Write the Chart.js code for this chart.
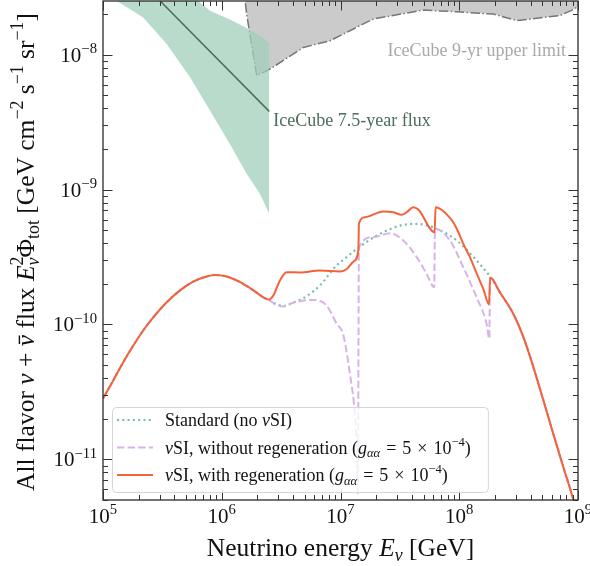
<!DOCTYPE html>
<html>
<head>
<meta charset="utf-8">
<script src="https://cdn.jsdelivr.net/npm/chart.js@4.4.1/dist/chart.umd.min.js"></script>
<style>
  html, body { margin: 0; padding: 0; background: #fff; }
</style>
</head>
<body>
<canvas id="flux" width="590" height="566"></canvas>
<script>
// energies in GeV, fluxes are E^2 Phi in GeV cm^-2 s^-1 sr^-1

// below ~2.5 PeV all three model curves coincide
const lowE    = [1.00e5, 1.22e5, 1.48e5, 1.80e5, 2.18e5, 2.65e5, 3.44e5, 4.45e5, 5.75e5, 7.46e5, 8.77e5, 1.10e6, 1.43e6, 1.85e6, 2.24e6, 2.47e6];
const lowFlux = [2.83e-11, 3.85e-11, 5.26e-11, 6.98e-11, 9.03e-11, 1.13e-10, 1.46e-10, 1.79e-10, 2.08e-10, 2.27e-10, 2.33e-10, 2.27e-10, 2.06e-10, 1.79e-10, 1.59e-10, 1.53e-10];

// above ~180 PeV they coincide again
const tailE    = [2.20e8, 2.85e8, 3.47e8, 4.21e8, 5.11e8, 6.19e8, 7.52e8, 8.67e8, 1.00e9];
const tailFlux = [1.73e-10, 1.20e-10, 8.05e-11, 4.83e-11, 2.74e-11, 1.55e-11, 8.77e-12, 5.89e-12, 3.8e-12];

// standard (no nuSI)
const stdE    = [2.82e6, 3.30e6, 3.98e6, 5.19e6, 6.71e6, 9.29e6, 1.13e7, 1.37e7, 2.02e7, 3.17e7, 4.38e7, 6.44e7, 9.53e7, 1.40e8, 1.82e8];
const stdFlux = [1.43e-10, 1.37e-10, 1.45e-10, 1.62e-10, 1.95e-10, 2.75e-10, 3.16e-10, 3.63e-10, 4.56e-10, 5.41e-10, 5.57e-10, 5.12e-10, 4.19e-10, 2.98e-10, 2.26e-10];

// nuSI without regeneration
const noRegenE    = [2.82e6, 3.30e6, 3.98e6, 5.92e6, 7.66e6, 9.29e6, 1.05e7, 1.20e7, 1.32e7, 1.37e7, 1.40e7, 1.43e7, 1.89e7, 2.61e7, 3.38e7, 4.38e7, 5.31e7, 6.15e7, 6.25e7, 8.36e7, 1.08e8, 1.40e8, 1.70e8, 1.79e8, 1.82e8];
const noRegenFlux = [1.41e-10, 1.36e-10, 1.45e-10, 1.52e-10, 1.38e-10, 1.01e-10, 8.53e-11, 4.32e-11, 2.18e-11, 1.23e-11, 5.6e-12, 3.72e-10, 4.44e-10, 4.75e-10, 4.19e-10, 3.16e-10, 2.38e-10, 1.89e-10, 5.13e-10, 4.19e-10, 2.66e-10, 1.59e-10, 1.01e-10, 7.83e-11, 2.26e-10];

// nuSI with regeneration
const regenE    = [2.72e6, 3.09e6, 3.52e6, 4.56e6, 6.71e6, 9.91e6, 1.13e7, 1.30e7, 1.415e7, 1.43e7, 1.61e7, 2.29e7, 2.79e7, 3.27e7, 3.61e7, 4.10e7, 4.52e7, 6.20e7, 6.32e7, 8.36e7, 9.53e7, 1.08e8, 1.23e8, 1.40e8, 1.60e8, 1.78e8, 1.82e8];
const regenFlux = [1.64e-10, 2.12e-10, 2.44e-10, 2.43e-10, 2.51e-10, 2.47e-10, 2.58e-10, 2.95e-10, 3.60e-10, 5.60e-10, 6.24e-10, 6.87e-10, 6.79e-10, 6.50e-10, 6.79e-10, 7.40e-10, 7.11e-10, 4.83e-10, 7.40e-10, 6.17e-10, 5.13e-10, 3.98e-10, 3.16e-10, 2.40e-10, 1.82e-10, 1.41e-10, 2.22e-10];

// IceCube 7.5-year flux: best fit and band
const heseE    = [1.50e5, 2.51e6];
const heseFlux = [4.68e-8, 3.80e-9];
const bandE    = [1.00e5, 1.30e5, 2.18e5, 3.44e5, 5.41e5, 7.96e5, 1.17e6, 1.62e6, 2.10e6, 2.51e6];
const bandLow  = [3.55e-8, 2.51e-8, 1.89e-8, 1.20e-8, 6.79e-9, 3.85e-9, 2.18e-9, 1.31e-9, 9.29e-10, 6.61e-10];
const bandHigh = [7.94e-8, 6.31e-8, 4.47e-8, 3.55e-8, 2.82e-8, 2.12e-8, 1.82e-8, 1.58e-8, 1.38e-8, 1.23e-8];

// IceCube 9-yr upper limit
const ulE    = [1.53e6, 1.62e6, 1.97e6, 2.55e6, 4.86e6, 8.17e6, 1.89e7, 4.98e7, 9.53e7, 1.94e8, 3.05e8, 7.05e8, 8.91e8, 1.00e9];
const ulFlux = [3.16e-8, 2.00e-8, 6.98e-9, 7.83e-9, 1.13e-8, 1.27e-8, 1.84e-8, 2.14e-8, 2.08e-8, 2.00e-8, 1.79e-8, 1.95e-8, 2.14e-8, 2.27e-8];

const xTickExps = [5, 6, 7, 8, 9];
const yTickExps = [-11, -10, -9, -8];

const FONT = '"Liberation Serif", "DejaVu Serif", serif';
const SP = "\u2004"; // wider math spacing around = and ×

const pts = (xs, ys) => xs.map((x, i) => ({x: x, y: ys[i]}));

// rich text: segments {t, it, sup, sub, bar, na (no advance)}
function segFont(s, size) {
  const sz = (s.sup || s.sub) ? size * 0.7 : size;
  return (s.it ? "italic " : "") + sz + "px " + FONT;
}
function drawRich(ctx, segs, x, y, size, align) {
  let w = 0;
  segs.forEach(s => {
    ctx.font = segFont(s, size);
    if (!s.na) w += ctx.measureText(s.t).width;
  });
  let cx = align === "center" ? x - w / 2 : align === "right" ? x - w : x;
  ctx.textAlign = "left";
  ctx.textBaseline = "alphabetic";
  segs.forEach(s => {
    ctx.font = segFont(s, size);
    const dy = s.sup ? -size * 0.42 : s.sub ? size * 0.2 : 0;
    const sw = ctx.measureText(s.t).width;
    ctx.fillText(s.t, cx, y + dy);
    if (s.bar) ctx.fillRect(cx + sw * 0.2, y - size * 0.6, sw * 0.75, size * 0.055);
    if (!s.na) cx += sw;
  });
  return w;
}

const mathTail = [{t: "g", it: true}, {t: "αα", it: true, sub: true}, {t: SP + "=" + SP + "5" + SP + "×" + SP + "10"}, {t: "−4", sup: true}, {t: ")"}];
const legendRows = [
  {ds: 2, segs: [{t: "Standard (no "}, {t: "ν", it: true}, {t: "SI)"}]},
  {ds: 1, segs: [{t: "ν", it: true}, {t: "SI, without regeneration ("}].concat(mathTail)},
  {ds: 0, segs: [{t: "ν", it: true}, {t: "SI, with regeneration ("}].concat(mathTail)}
];

const decorPlugin = {
  id: "decor",
  afterDatasetsDraw(chart) {
    const ctx = chart.ctx;
    const a = chart.chartArea;
    const xs = chart.scales.x, ys = chart.scales.y;
    ctx.save();

    // annotations
    ctx.fillStyle = "#4b6e5c";
    ctx.font = "18px " + FONT;
    ctx.textAlign = "left";
    ctx.fillText("IceCube 7.5-year flux", xs.getPixelForValue(bandE[bandE.length - 1]) + 4, ys.getPixelForValue(heseFlux[1]) + 15);
    ctx.fillStyle = "#a9a9a9";
    ctx.textAlign = "right";
    ctx.fillText("IceCube 9-yr upper limit", a.right - 12, ys.getPixelForValue(1e-8) + 1);

    // frame
    ctx.strokeStyle = "#222";
    ctx.lineWidth = 1.25;
    ctx.strokeRect(a.left, a.top, a.right - a.left, a.bottom - a.top);

    // inward ticks on all four sides
    ctx.lineWidth = 1;
    ctx.strokeStyle = "#333";
    ctx.beginPath();
    for (let e = 5; e <= 9; e++) {
      for (let k = 1; k <= 9; k++) {
        const v = k * Math.pow(10, e);
        if (v < xs.min || v > xs.max) continue;
        const px = Math.round(xs.getPixelForValue(v)) + 0.5;
        const len = k === 1 ? 9.5 : 5;
        ctx.moveTo(px, a.bottom); ctx.lineTo(px, a.bottom - len);
        ctx.moveTo(px, a.top); ctx.lineTo(px, a.top + len);
      }
    }
    for (let e = -12; e <= -8; e++) {
      for (let k = 1; k <= 9; k++) {
        const v = k * Math.pow(10, e);
        if (v < ys.min || v > ys.max) continue;
        const py = Math.round(ys.getPixelForValue(v)) + 0.5;
        const len = k === 1 ? 9.5 : 5;
        ctx.moveTo(a.left, py); ctx.lineTo(a.left + len, py);
        ctx.moveTo(a.right, py); ctx.lineTo(a.right - len, py);
      }
    }
    ctx.stroke();

    // tick labels
    ctx.fillStyle = "#111";
    xTickExps.forEach(e => {
      const px = xs.getPixelForValue(Math.pow(10, e));
      drawRich(ctx, [{t: "10"}, {t: String(e), sup: true}], px, a.bottom + 23, 21, "center");
    });
    yTickExps.forEach(e => {
      const py = ys.getPixelForValue(Math.pow(10, e));
      drawRich(ctx, [{t: "10"}, {t: "−" + (-e), sup: true}], a.left - 6, py + 7, 21, "right");
    });

    // axis titles
    drawRich(ctx, [{t: "Neutrino energy "}, {t: "E", it: true}, {t: "ν", it: true, sub: true}, {t: " [GeV]"}],
      (a.left + a.right) / 2, 556, 25.5, "center");
    ctx.translate(34, 252);
    ctx.rotate(-Math.PI / 2);
    drawRich(ctx, [
      {t: "All flavor "}, {t: "ν", it: true}, {t: " + "}, {t: "ν", it: true, bar: true}, {t: " flux "},
      {t: "E", it: true}, {t: "2", sup: true, na: true}, {t: "ν", it: true, sub: true}, {t: "Φ"}, {t: "tot", sub: true},
      {t: " [GeV cm"}, {t: "−2", sup: true}, {t: " s"}, {t: "−1", sup: true}, {t: " sr"}, {t: "−1", sup: true}, {t: "]"}
    ], 0, 0, 25.5, "center");
    ctx.restore();

    // legend box inside the plot
    ctx.save();
    const lsize = 18;
    let maxW = 0;
    legendRows.forEach(r => {
      let w = 0;
      r.segs.forEach(s => { ctx.font = segFont(s, lsize); w += ctx.measureText(s.t).width; });
      maxW = Math.max(maxW, w);
    });
    const bx = a.left + 9, by = a.bottom - 93;
    const bw = 62 + maxW + 8, bh = 85;
    ctx.beginPath();
    ctx.roundRect(bx + 0.5, by + 0.5, bw, bh, 4);
    ctx.fillStyle = "rgba(255,255,255,0.8)";
    ctx.fill();
    ctx.strokeStyle = "#d6d6d6";
    ctx.lineWidth = 1;
    ctx.stroke();
    legendRows.forEach((r, i) => {
      const ds = chart.data.datasets[r.ds];
      const cy = by + 13 + i * 27.5;
      ctx.beginPath();
      ctx.strokeStyle = ds.borderColor;
      ctx.lineWidth = ds.borderWidth;
      ctx.setLineDash(ds.borderDash || []);
      ctx.moveTo(bx + 5, cy);
      ctx.lineTo(bx + 41, cy);
      ctx.stroke();
      ctx.setLineDash([]);
      ctx.fillStyle = "#111";
      drawRich(ctx, r.segs, bx + 53, cy + 6, lsize, "left");
    });
    ctx.restore();
  }
};

const smooth = {cubicInterpolationMode: "monotone", fill: false};

new Chart(document.getElementById("flux"), {
  type: "line",
  data: {
    datasets: [
      Object.assign({
        label: "nuSI, with regeneration",
        data: pts(lowE.concat(regenE, tailE), lowFlux.concat(regenFlux, tailFlux)),
        borderColor: "#f4623a", borderWidth: 2
      }, smooth),
      Object.assign({
        label: "nuSI, without regeneration",
        data: pts(lowE.concat(noRegenE, tailE), lowFlux.concat(noRegenFlux, tailFlux)),
        borderColor: "#d7b3ea", borderWidth: 2, borderDash: [7.4, 3.2]
      }, smooth),
      Object.assign({
        label: "Standard (no nuSI)",
        data: pts(lowE.concat(stdE, tailE), lowFlux.concat(stdFlux, tailFlux)),
        borderColor: "#76bcb8", borderWidth: 2.2, borderDash: [2, 3.3]
      }, smooth),
      {
        label: "IceCube 7.5-year best fit",
        data: pts(heseE, heseFlux),
        borderColor: "#4b6e5c", borderWidth: 1.5, fill: false
      },
      {
        label: "IceCube 7.5-year band high",
        data: pts(bandE, bandHigh),
        borderWidth: 0, borderColor: "rgba(0,0,0,0)",
        backgroundColor: "rgba(162,207,185,0.75)", fill: 5
      },
      {
        label: "IceCube 7.5-year band low",
        data: pts(bandE, bandLow),
        borderWidth: 0, borderColor: "rgba(0,0,0,0)", fill: false
      },
      {
        label: "IceCube 9-yr upper limit",
        data: pts(ulE, ulFlux),
        borderColor: "#767676", borderWidth: 1.5, borderDash: [9.6, 2.4, 1.5, 2.4],
        backgroundColor: "#cbcbcb", fill: "end"
      }
    ]
  },
  options: {
    responsive: false,
    devicePixelRatio: 1,
    animation: false,
    layout: {padding: {left: 103, right: 12, top: 1, bottom: 66}},
    elements: {point: {radius: 0}, line: {tension: 0}},
    scales: {
      x: {type: "logarithmic", min: 1e5, max: 1e9, display: false},
      y: {type: "logarithmic", min: 5e-12, max: 2.5e-8, display: false}
    },
    plugins: {
      legend: {display: false},
      tooltip: {enabled: false}
    }
  },
  plugins: [decorPlugin]
});
</script>
</body>
</html>
